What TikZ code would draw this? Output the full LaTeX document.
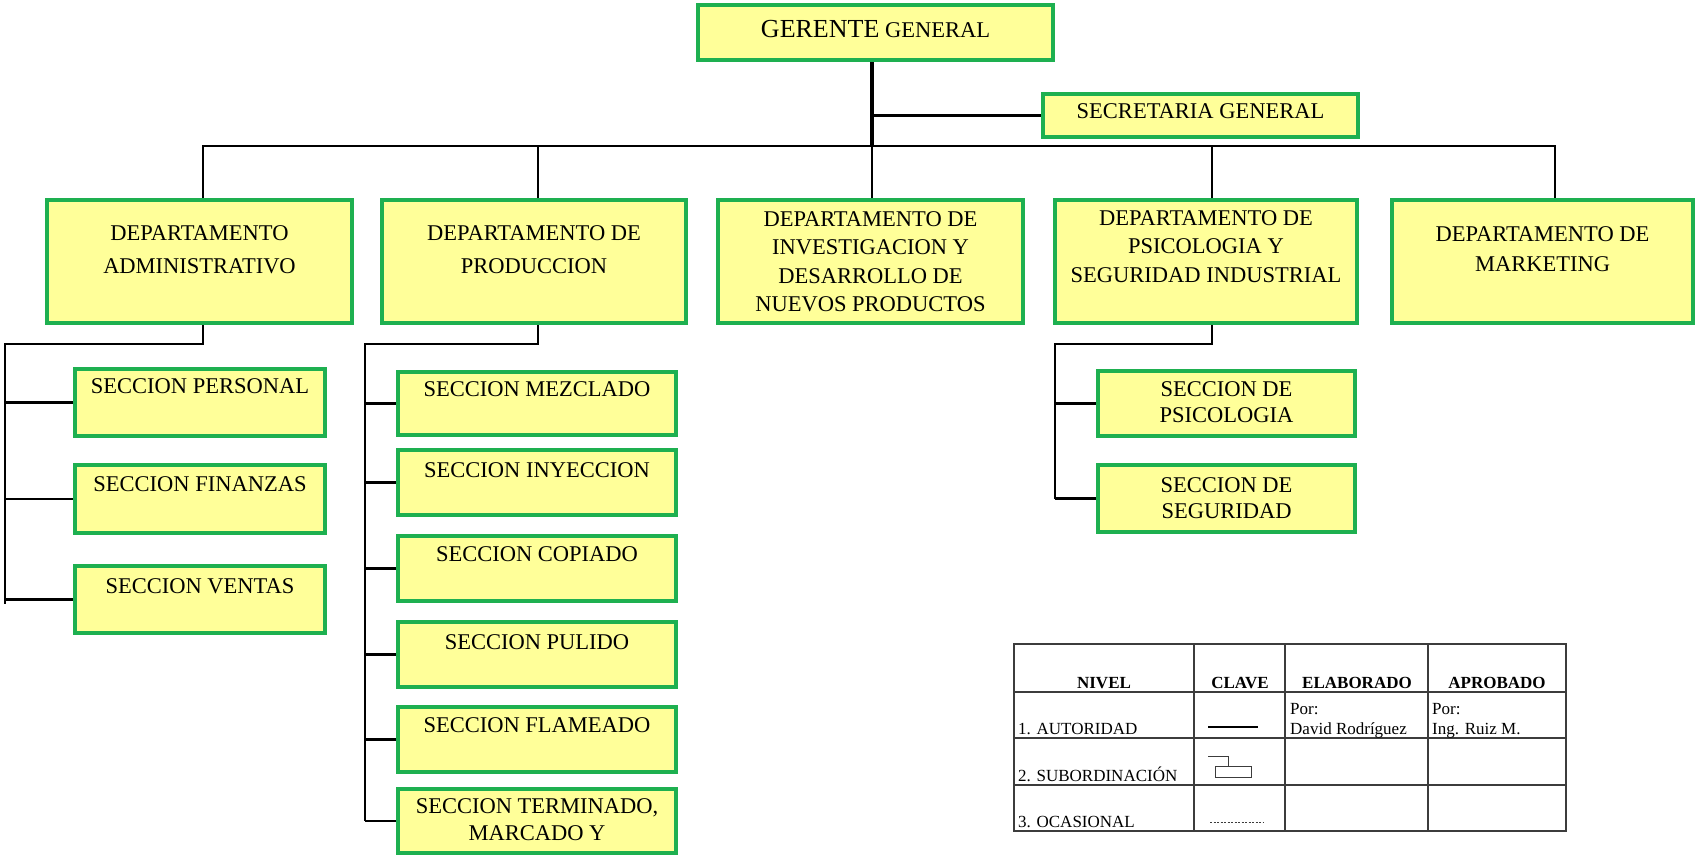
\documentclass[tikz,border=0pt]{standalone}
\usepackage{fontspec}
\setmainfont{Liberation Serif}
\definecolor{boxgreen}{RGB}{30,176,80}
\definecolor{boxfill}{RGB}{255,255,153}
\definecolor{gridgray}{RGB}{60,60,60}
% box content: width, height, top gap, baselineskip, text
\newcommand{\bx}[5]{\parbox[c][#2pt][t]{#1pt}{\centering\fontsize{22.5}{#4}\selectfont\vspace*{#3pt}#5\par}}
\tikzset{
  org/.style={draw=boxgreen, fill=boxfill, line width=4pt, inner sep=0pt},
  conn/.style={draw=black, line width=2.2pt},
  trunk/.style={draw=black, line width=4.5pt},
  cell/.style={inner sep=0pt, font=\fontsize{17}{20}\selectfont},
  hdr/.style={cell, font=\fontsize{17}{20}\selectfont\bfseries},
  grid/.style={draw=gridgray, line width=1.4pt}
}
\begin{document}
\begin{tikzpicture}[x=1pt,y=-1pt]
\fill[white] (0,0) rectangle (1697,857);
\useasboundingbox (0,0) rectangle (1697,857);

% top level
\node[org] (gerente) at (875.5,32.5) {\bx{355}{55}{15.4}{30}{{\fontsize{26}{30}\selectfont GERENTE} GENERAL}};
\node[org] (secretaria) at (1200.5,115.5) {\bx{315}{43}{9.5}{29}{SECRETARIA GENERAL}};

% departments
\node[org] (admin) at (199.5,261.5) {\bx{305}{123}{25.5}{33}{DEPARTAMENTO\\ADMINISTRATIVO}};
\node[org] (produccion) at (534,261.5) {\bx{304}{123}{25.5}{33}{DEPARTAMENTO DE\\PRODUCCION}};
\node[org] (investigacion) at (870.5,261.5) {\bx{305}{123}{11.5}{28.5}{DEPARTAMENTO DE\\INVESTIGACION Y\\DESARROLLO DE\\NUEVOS PRODUCTOS}};
\node[org] (psicologia) at (1206,261.5) {\bx{302}{123}{10.5}{28.5}{DEPARTAMENTO DE\\PSICOLOGIA Y\\SEGURIDAD INDUSTRIAL}};
\node[org] (marketing) at (1542.5,261.5) {\bx{301}{123}{26.5}{30}{DEPARTAMENTO DE\\MARKETING}};

% sections of the administrative department
\node[org] (personal) at (200,402.5) {\bx{250}{67}{9.5}{26}{SECCION PERSONAL}};
\node[org] (finanzas) at (200,499) {\bx{250}{68}{11.5}{26}{SECCION FINANZAS}};
\node[org] (ventas) at (200,599.5) {\bx{250}{67}{12.5}{26}{SECCION VENTAS}};

% sections of the production department
\node[org] (mezclado) at (537,403.5) {\bx{278}{63}{9.5}{26}{SECCION MEZCLADO}};
\node[org] (inyeccion) at (537,482.5) {\bx{278}{65}{12.5}{26}{SECCION INYECCION}};
\node[org] (copiado) at (537,568.5) {\bx{278}{65}{10.5}{26}{SECCION COPIADO}};
\node[org] (pulido) at (537,654.5) {\bx{278}{65}{12.5}{26}{SECCION PULIDO}};
\node[org] (flameado) at (537,739.5) {\bx{278}{65}{10.5}{26}{SECCION FLAMEADO}};
\node[org] (terminado) at (537,821) {\bx{278}{64}{9.5}{27}{SECCION TERMINADO,\\MARCADO Y}};

% sections of the psychology and safety department
\node[org] (secpsico) at (1226.5,403.5) {\bx{257}{65}{10.5}{26}{SECCION DE\\PSICOLOGIA}};
\node[org] (secseg) at (1226.5,498.5) {\bx{257}{67}{12.5}{26}{SECCION DE\\SEGURIDAD}};

% main trunk and bus
\coordinate (bus) at (872,146);
\coordinate (gtop) at ([xshift=-3.5pt]gerente.south);
\draw[trunk] (gtop) -- (gtop |- bus);
\draw[conn] (bus |- secretaria.west) -- (secretaria.west);
\coordinate (dadm) at ([xshift=3.5pt]admin.north);
\coordinate (dmkt) at ([xshift=12.5pt]marketing.north);
\draw[conn] (dadm) |- (bus) -| (dmkt);
\coordinate (dprod) at ([xshift=4pt]produccion.north);
\draw[conn] (dprod) -- (dprod |- bus);
\draw[conn] (bus) -- (bus |- investigacion.north);
\coordinate (dpsi) at ([xshift=6pt]psicologia.north);
\draw[conn] (dpsi) -- (dpsi |- bus);

% administrative subordination
\coordinate (asub) at ([xshift=3.5pt]admin.south);
\coordinate (aspine) at (5,344);
\coordinate (aend) at (5,604);
\draw[conn] (asub) |- (aspine) -- (aend);
\foreach \s in {personal,finanzas,ventas}
  \draw[conn] (aspine |- \s.west) -- (\s.west);

% production subordination
\coordinate (psub) at ([xshift=4pt]produccion.south);
\coordinate (pspine) at (365,344);
\draw[conn] (psub) |- (pspine) -- (pspine |- terminado.west);
\foreach \s in {mezclado,inyeccion,copiado,pulido,flameado,terminado}
  \draw[conn] (pspine |- \s.west) -- (\s.west);

% psychology subordination
\coordinate (ssub) at ([xshift=6pt]psicologia.south);
\coordinate (sspine) at (1055,344);
\draw[conn] (ssub) |- (sspine) -- (sspine |- secseg.west);
\foreach \s in {secpsico,secseg}
  \draw[conn] (sspine |- \s.west) -- (\s.west);

% legend table
\draw[grid] (1014,644) rectangle (1566,831);
\foreach \x in {1194,1285,1428} \draw[grid] (\x,644) -- (\x,831);
\foreach \y in {692,738,785} \draw[grid] (1014,\y) -- (1566,\y);
\node[hdr, anchor=base] (hnivel) at (1104,688) {NIVEL};
\node[hdr, anchor=base] (hclave) at (1240,688) {CLAVE};
\node[hdr, anchor=base] (helab) at (1357,688) {ELABORADO};
\node[hdr, anchor=base] (haprob) at (1497,688) {APROBADO};
\node[cell, anchor=base west] (niv1) at (1018,734) {1. AUTORIDAD};
\node[cell, anchor=base west] (niv2) at (1018,781) {2. SUBORDINACIÓN};
\node[cell, anchor=base west] (niv3) at (1018,827) {3. OCASIONAL};
\node[cell, anchor=base west] (elab1) at (1290,714) {Por:};
\node[cell, anchor=base west] (elab2) at (1290,734) {David Rodríguez};
\node[cell, anchor=base west] (aprob1) at (1432,714) {Por:};
\node[cell, anchor=base west] (aprob2) at (1432,734) {Ing. Ruiz M.};
% key symbols
\draw[black, line width=2.5pt] (1208,727) -- (1258,727);
\draw[gridgray, line width=1pt] (1208,756) -- (1228,756) -- (1228,766);
\draw[gridgray, line width=1pt] (1215,766) rectangle (1251,777);
\draw[gridgray, line width=0.8pt, dash pattern=on 2pt off 1.5pt] (1210,822) -- (1264,822);
\end{tikzpicture}
\end{document}
